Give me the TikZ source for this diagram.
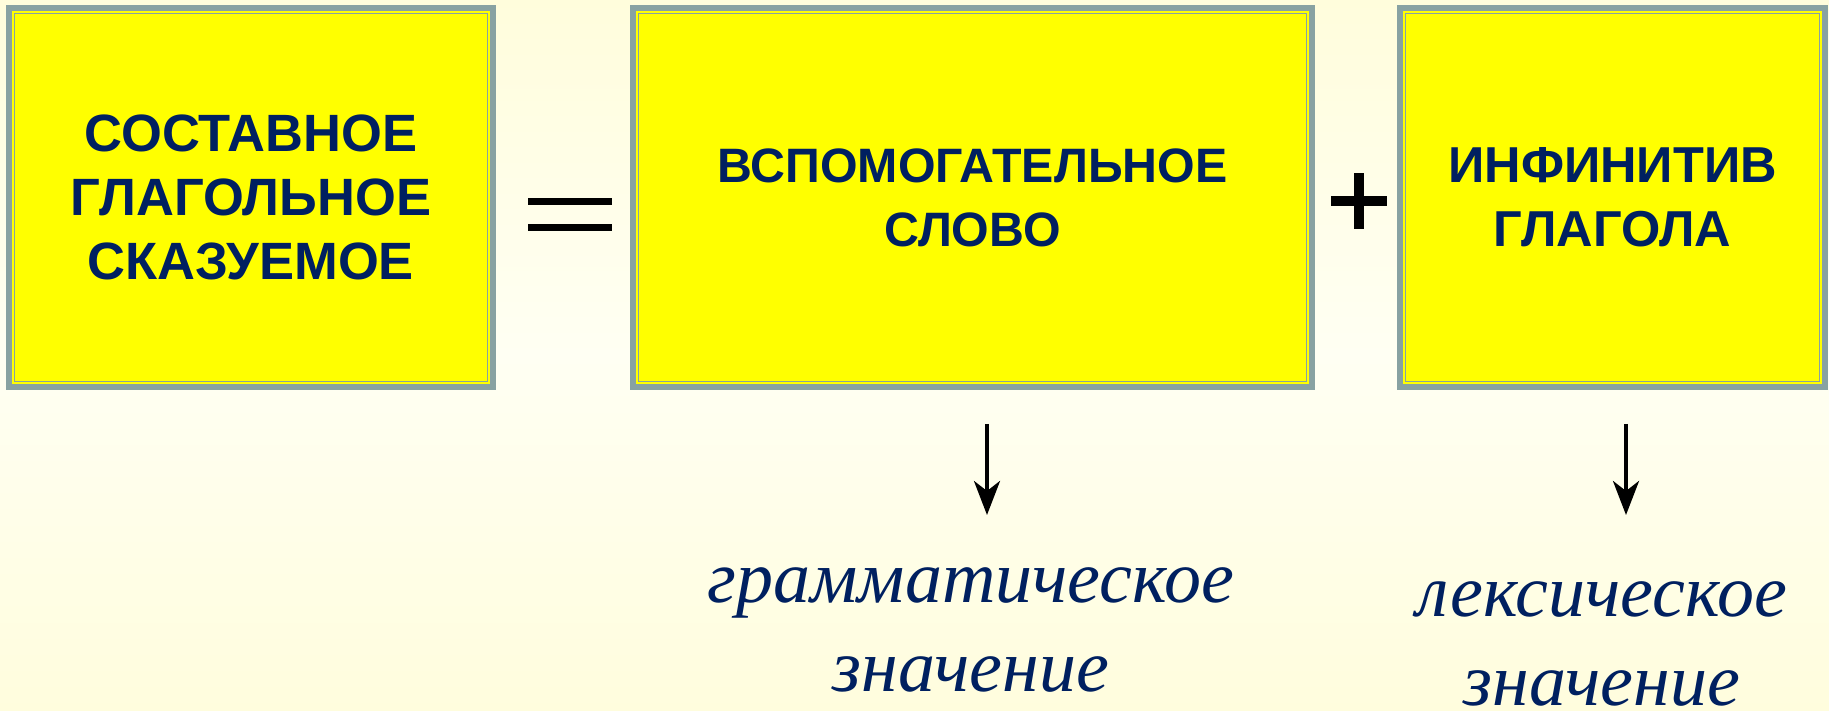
\documentclass[tikz,border=0pt]{standalone}
\usepackage{fontspec}
\setmainfont{Liberation Serif}
\setsansfont{Liberation Sans}
\usetikzlibrary{arrows.meta}
\definecolor{bgtop}{HTML}{FFFDDC}
\definecolor{bgmid}{HTML}{FFFFF3}
\definecolor{bgbot}{HTML}{FFFDDD}
\definecolor{boxyellow}{HTML}{FFFF00}
\definecolor{rimgray}{HTML}{88A2A2}
\definecolor{navy}{HTML}{002060}
\tikzset{
  box/.style={draw=rimgray, line width=6pt, fill=boxyellow, inner sep=0pt, outer sep=0pt,
    text=navy, align=center, minimum height=379pt},
  inline/.style={draw=rimgray, line width=1.5pt},
  meaning/.style={text=navy, font=\fontsize{74}{89}\selectfont\itshape, align=center, inner sep=0pt},
  sign/.style={fill=black},
  arr/.style={line width=4pt, -{Stealth[length=34pt,width=26pt,inset=10pt]}}
}
\begin{document}
\begin{tikzpicture}[x=1pt,y=1pt]
\useasboundingbox (0,0) rectangle (1829,711);
\shade[top color=bgtop, bottom color=bgbot, middle color=bgmid] (0,0) rectangle (1829,711);

\node[box, minimum width=484pt, font=\sffamily\bfseries\fontsize{52.5}{64}\selectfont] (b1) at (251,513.5)
  {СОСТАВНОЕ\\ГЛАГОЛЬНОЕ\\СКАЗУЕМОЕ};
\node[box, minimum width=679pt, font=\sffamily\bfseries\fontsize{48.3}{64}\selectfont] (b2) at (972.5,513.5)
  {ВСПОМОГАТЕЛЬНОЕ\\СЛОВО};
\node[box, minimum width=425pt, font=\sffamily\bfseries\fontsize{50.5}{64}\selectfont] (b3) at (1612.5,513.5)
  {ИНФИНИТИВ\\ГЛАГОЛА};
\foreach \n in {b1,b2,b3}
  \draw[inline] ([shift={(5.7,-5.7)}]\n.north west) rectangle ([shift={(-5.7,5.7)}]\n.south east);

% equals sign
\fill[sign] (528,513) rectangle (612,506);
\fill[sign] (528,487) rectangle (612,480);
% plus sign
\fill[sign] (1331,515) rectangle (1387,505);
\fill[sign] (1354,538) rectangle (1364,482);

\node[meaning, anchor=base] (m1) at (971,19) {грамматическое\\значение};
\node[meaning, anchor=base] (m2) at (1602,5) {лексическое\\значение};

\coordinate (a1s) at (987,287);
\coordinate (a1e) at (987,196);
\coordinate (a2s) at (1626,287);
\coordinate (a2e) at (1626,196);
\draw[arr] (a1s) -- (a1e);
\draw[arr] (a2s) -- (a2e);
\end{tikzpicture}
\end{document}
